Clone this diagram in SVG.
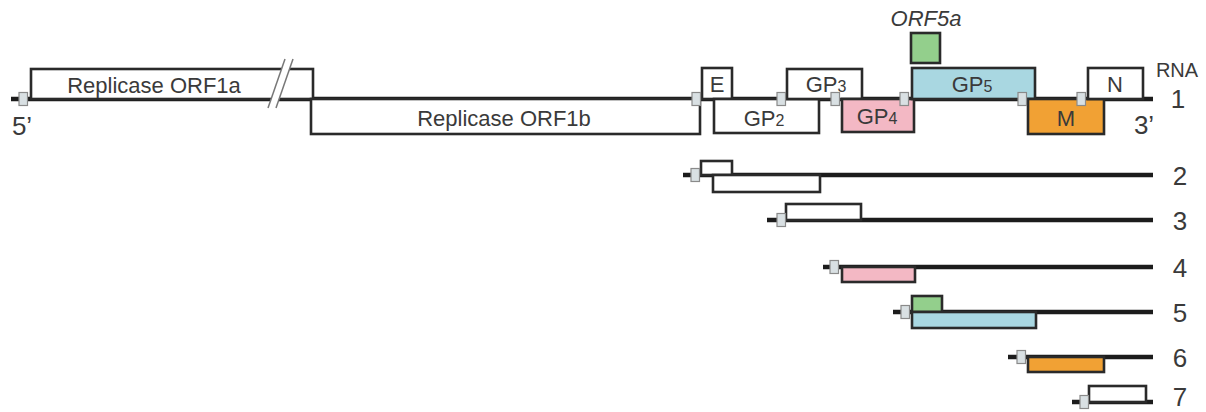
<svg xmlns="http://www.w3.org/2000/svg" width="1206" height="412" viewBox="0 0 1206 412">
<style>
.rna{stroke:#1c1c1c;stroke-width:4.5;fill:none}
.box{stroke:#2a2a2a;stroke-width:2.6;fill:#ffffff}
.pink{fill:#f3b8c4}
.green{fill:#93cf8c}
.blue{fill:#a9d7e1}
.orange{fill:#f1a134}
.sq{fill:#d9e0e3;stroke:#8a8a8a;stroke-width:1.2}
.lbl{font-family:"Liberation Sans",Arial,sans-serif;font-size:22px;fill:#3a3a3a;text-anchor:middle}
.sub{font-size:16px}
.num{font-family:"Liberation Sans",Arial,sans-serif;font-size:26px;fill:#3a3a3a;text-anchor:middle}
</style>
<defs>
<rect id="leader" class="sq" x="-4" y="-6.5" width="8.5" height="13"/>
</defs>

<g id="connectors">
<line class="rna" x1="11" y1="99" x2="1153" y2="99"/>
<line class="rna" x1="683" y1="175" x2="1153" y2="175"/>
<line class="rna" x1="767" y1="220" x2="1153" y2="220"/>
<line class="rna" x1="823" y1="267" x2="1153" y2="267"/>
<line class="rna" x1="893" y1="312" x2="1153" y2="312"/>
<line class="rna" x1="1008" y1="357" x2="1153" y2="357"/>
<line class="rna" x1="1072" y1="402" x2="1153" y2="402"/>
</g>

<g id="orf1a">
<rect class="box" x="31" y="69" width="282" height="30"/>
<text class="lbl" x="154" y="93">Replicase ORF1a</text>
</g>
<g id="orf1b">
<rect class="box" x="311" y="99" width="389" height="35"/>
<text class="lbl" x="504" y="126">Replicase ORF1b</text>
</g>
<g id="break">
<polygon points="268,108 276,108 293,59 285,59" fill="#ffffff"/>
<line x1="268" y1="108" x2="285" y2="59" stroke="#777" stroke-width="1.5"/>
<line x1="276" y1="108" x2="293" y2="59" stroke="#777" stroke-width="1.5"/>
</g>

<g id="row1">
<g id="E1"><rect class="box" x="702" y="68" width="30" height="31"/><text class="lbl" x="717" y="92">E</text></g>
<g id="GP2-1"><rect class="box" x="714" y="99" width="105" height="34"/><text class="lbl" x="764" y="126">GP<tspan class="sub">2</tspan></text></g>
<g id="GP3-1"><rect class="box" x="787" y="69" width="75" height="30"/><text class="lbl" x="826" y="92">GP<tspan class="sub">3</tspan></text></g>
<g id="GP4-1"><rect class="box pink" x="842" y="99" width="72" height="33"/><text class="lbl" x="877" y="124">GP<tspan class="sub">4</tspan></text></g>
<g id="ORF5a-1"><rect class="box green" x="911" y="33" width="29" height="30"/><text class="lbl" x="926" y="26" font-style="italic">ORF5a</text></g>
<g id="GP5-1"><rect class="box blue" x="912" y="68" width="123" height="31"/><text class="lbl" x="972" y="92">GP<tspan class="sub">5</tspan></text></g>
<g id="M1"><rect class="box orange" x="1028" y="99" width="76" height="35"/><text class="lbl" x="1066" y="126">M</text></g>
<g id="N1"><rect class="box" x="1088" y="68" width="55" height="31"/><text class="lbl" x="1115" y="92">N</text></g>
<use href="#leader" x="23" y="99"/>
<use href="#leader" x="696" y="99"/>
<use href="#leader" x="781" y="99"/>
<use href="#leader" x="835" y="99"/>
<use href="#leader" x="904" y="99"/>
<use href="#leader" x="1022" y="99"/>
<use href="#leader" x="1081" y="99"/>
<text class="num" x="22" y="135" font-size="25">5’</text>
<text class="num" x="1144" y="134" font-size="25">3’</text>
<text class="lbl" x="1177" y="77" style="font-size:20px">RNA</text>
<text class="num" x="1178" y="108">1</text>
</g>

<g id="row2">
<rect class="box" x="701" y="161" width="31" height="14"/>
<rect class="box" x="713" y="175" width="107" height="17"/>
<use href="#leader" x="695" y="175"/>
<text class="num" x="1180" y="185">2</text>
</g>
<g id="row3">
<rect class="box" x="786" y="204" width="75" height="16"/>
<use href="#leader" x="781" y="220"/>
<text class="num" x="1180" y="230">3</text>
</g>
<g id="row4">
<rect class="box pink" x="842" y="267" width="73" height="15"/>
<use href="#leader" x="834" y="267"/>
<text class="num" x="1180" y="277">4</text>
</g>
<g id="row5">
<rect class="box green" x="912" y="296" width="30" height="16"/>
<rect class="box blue" x="912" y="312" width="124" height="16"/>
<use href="#leader" x="905" y="312"/>
<text class="num" x="1180" y="322">5</text>
</g>
<g id="row6">
<rect class="box orange" x="1028" y="357" width="76" height="15"/>
<use href="#leader" x="1021" y="357"/>
<text class="num" x="1180" y="367">6</text>
</g>
<g id="row7">
<rect class="box" x="1089" y="386" width="57" height="16"/>
<use href="#leader" x="1084" y="402"/>
<text class="num" x="1180" y="406">7</text>
</g>
</svg>
